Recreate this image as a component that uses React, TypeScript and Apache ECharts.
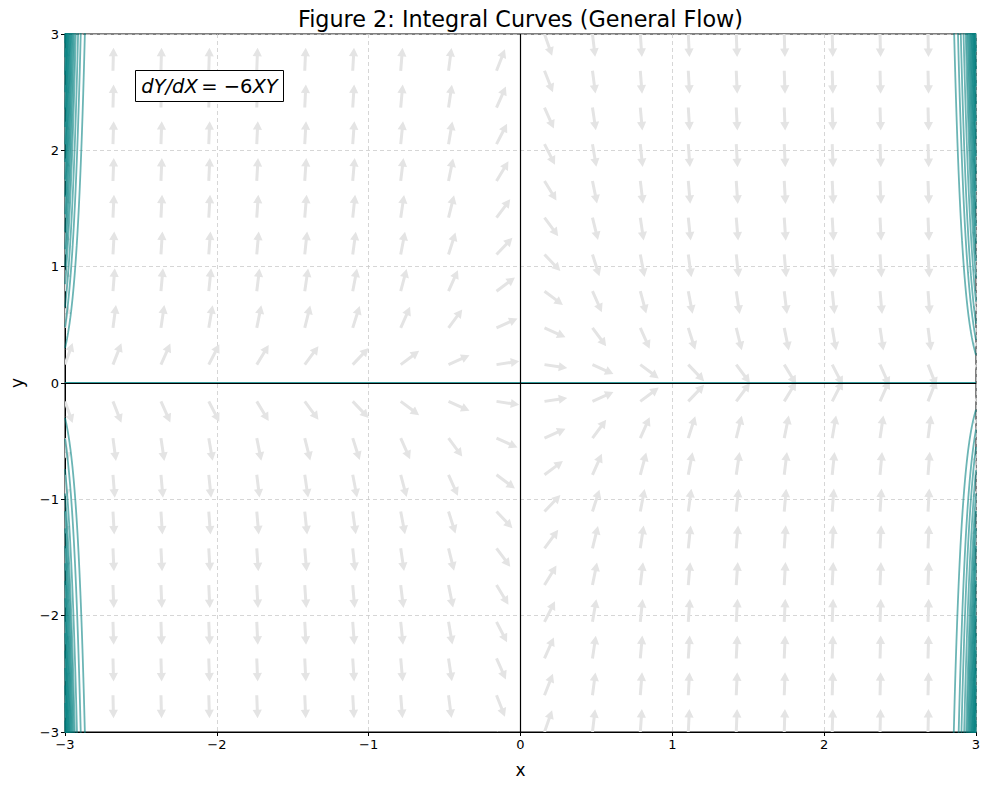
import React, { useEffect, useRef } from "react";
import * as echarts from "echarts";

// Direction-field sample positions (20 evenly spaced values on [-3, 3])
const fieldGrid = [
  -3, -2.684, -2.368, -2.053, -1.737, -1.421, -1.105, -0.789, -0.474, -0.158,
  0.158, 0.474, 0.789, 1.105, 1.421, 1.737, 2.053, 2.368, 2.684, 3,
];
// Integral curve values where each curve meets the plot edge
const leftEdgeValues = [
  0.3, 0.48, 0.65, 0.85, 1.0, 1.15, 1.3, 1.45, 1.6, 1.75, 1.9, 2.05, 2.2, 2.35, 2.5, 2.65, 2.8, 2.92,
  -0.3, -0.48, -0.74, -0.95, -1.1, -1.25, -1.4, -1.55, -1.7, -1.85, -2.0, -2.15, -2.3, -2.45, -2.6, -2.75, -2.9,
];
const rightEdgeValues = [
  0.24, 0.37, 0.51, 0.7, 0.9, 1.05, 1.2, 1.35, 1.5, 1.65, 1.8, 1.95, 2.1, 2.25, 2.4, 2.55, 2.7, 2.85,
  -0.23, -0.4, -0.55, -0.75, -0.95, -1.1, -1.25, -1.4, -1.55, -1.7, -1.85, -2.0, -2.15, -2.3, -2.45, -2.6, -2.75, -2.9,
];
const xTicks = [-3, -2, -1, 0, 1, 2, 3];
const yTicks = [-3, -2, -1, 0, 1, 2, 3];

const slope = (x: number, y: number) => -6 * x * y;

function curveData(edgeX: number, y0: number): number[][] {
  const pts: number[][] = [];
  const dir = edgeX < 0 ? 1 : -1;
  for (let k = 0; k < 400; k++) {
    const x = edgeX + dir * k * 0.001;
    const y = y0 * Math.exp(-3 * (x * x - edgeX * edgeX));
    pts.push([x, y]);
    if (Math.abs(y) > 3.5) break;
  }
  return pts;
}

export default function App() {
  const ref = useRef<HTMLDivElement>(null);
  useEffect(() => {
    if (!ref.current) return;
    const chart = echarts.init(ref.current, null, { renderer: "svg" });
    const fieldData: number[][] = [];
    fieldGrid.forEach((x) => fieldGrid.forEach((y) => fieldData.push([x, y])));

    const curveStyle = { color: "#008080", opacity: 0.58, width: 1.8 };
    const curveSeries: any[] = [];
    leftEdgeValues.forEach((v) =>
      curveSeries.push({ type: "line", data: curveData(-3, v), showSymbol: false, lineStyle: curveStyle, z: 3, silent: true })
    );
    rightEdgeValues.forEach((v) =>
      curveSeries.push({ type: "line", data: curveData(3, v), showSymbol: false, lineStyle: curveStyle, z: 3, silent: true })
    );

    const fmt = (v: number) => String(v).replace("-", "\u2212");

    chart.setOption({
      animation: false,
      textStyle: { fontFamily: "DejaVu Sans" },
      grid: {
        left: 65,
        right: 13,
        top: 34,
        bottom: 58,
        show: true,
        borderColor: "#000",
        borderWidth: 1,
        backgroundColor: "transparent",
      },
      xAxis: {
        type: "value",
        min: -3,
        max: 3,
        interval: 1,
        name: "x",
        nameLocation: "middle",
        nameGap: 29,
        nameTextStyle: { fontSize: 17, color: "#000" },
        axisLine: { show: true, onZero: false, lineStyle: { color: "#000", width: 1 } },
        axisTick: { show: true, length: 4, lineStyle: { color: "#000" } },
        axisLabel: { color: "#000", fontSize: 13, margin: 6, formatter: (v: number) => (xTicks.includes(v) ? fmt(v) : "") },
        splitLine: { show: true, lineStyle: { color: "#cccccc", type: [4, 3], width: 0.8 } },
      },
      yAxis: {
        type: "value",
        min: -3,
        max: 3,
        interval: 1,
        name: "y",
        nameLocation: "middle",
        nameGap: 40,
        nameTextStyle: { fontSize: 17, color: "#000" },
        axisLine: { show: true, onZero: false, lineStyle: { color: "#000", width: 1 } },
        axisTick: { show: true, length: 4, lineStyle: { color: "#000" } },
        axisLabel: { color: "#000", fontSize: 13, margin: 6, formatter: (v: number) => (yTicks.includes(v) ? fmt(v) : "") },
        splitLine: { show: true, lineStyle: { color: "#cccccc", type: [4, 3], width: 0.8 } },
      },
      series: [
        {
          type: "custom",
          data: fieldData,
          clip: true,
          silent: true,
          z: 2,
          renderItem: (params: any, api: any) => {
            const x = api.value(0);
            const y = api.value(1);
            const p = api.coord([x, y]);
            const s = slope(x, y);
            const n = Math.sqrt(1 + s * s);
            const dx = 1 / n;
            const dy = -s / n;
            const L = 23;
            const hw = 1.5;
            const hhw = 4.6;
            const hl = 8.5;
            const px = -dy;
            const py = dx;
            const tip = [p[0] + dx * L, p[1] + dy * L];
            const neck = [p[0] + dx * (L - hl), p[1] + dy * (L - hl)];
            const pts = [
              [p[0] + px * hw, p[1] + py * hw],
              [neck[0] + px * hw, neck[1] + py * hw],
              [neck[0] + px * hhw, neck[1] + py * hhw],
              tip,
              [neck[0] - px * hhw, neck[1] - py * hhw],
              [neck[0] - px * hw, neck[1] - py * hw],
              [p[0] - px * hw, p[1] - py * hw],
            ];
            return { type: "polygon", shape: { points: pts }, style: { fill: "#e4e4e4" } };
          },
        },
        ...curveSeries,
        {
          type: "line",
          data: [[-3, 0], [3, 0]],
          showSymbol: false,
          lineStyle: { color: "#008080", opacity: 0.8, width: 2.2 },
          z: 3,
          silent: true,
          markLine: {
            silent: true,
            symbol: "none",
            label: { show: false },
            lineStyle: { color: "#000", width: 1.2, type: "solid" },
            data: [{ xAxis: 0 }, { yAxis: 0 }],
            z: 5,
          },
        },
      ],
      graphic: [
        {
          type: "text",
          x: 520.5,
          y: 19,
          style: {
            text: "Figure 2: Integral Curves (General Flow)",
            fontSize: 22.3,
            fontFamily: "DejaVu Sans",
            fill: "#000",
            align: "center",
            verticalAlign: "middle",
          },
        },
        {
          type: "rect",
          shape: { x: 135.5, y: 70.5, width: 148, height: 31 },
          style: { fill: "#fff", stroke: "#000", lineWidth: 1 },
          z: 10,
        },
        {
          type: "text",
          x: 209.5,
          y: 86,
          z: 11,
          style: {
            text: "{i|dY/dX} {n|= \u22126}{i|XY}",
            align: "center",
            verticalAlign: "middle",
            rich: {
              i: { fontSize: 19.5, fontStyle: "italic", fontFamily: "DejaVu Sans", fill: "#000" },
              n: { fontSize: 19.5, fontFamily: "DejaVu Sans", fill: "#000" },
            },
          },
        },
      ],
    });
    return () => chart.dispose();
  }, []);
  return <div ref={ref} style={{ width: 989, height: 790, margin: -8 }} />;
}
